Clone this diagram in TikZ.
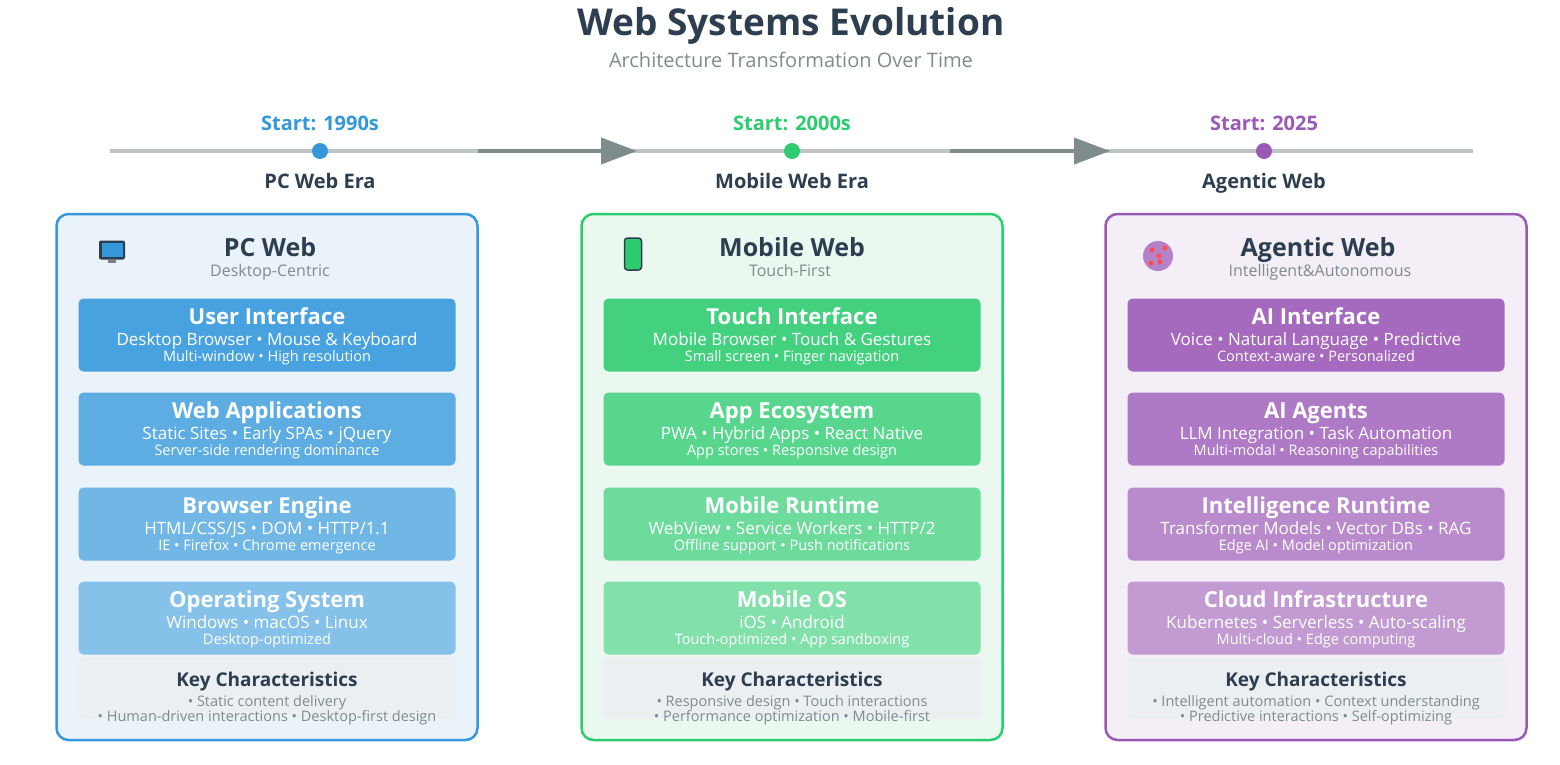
\documentclass[tikz,border=0pt]{standalone}
\usepackage{fontspec}
\setmainfont{Open Sans}
\usetikzlibrary{arrows.meta}
\definecolor{ink}{HTML}{2C3E50}
\definecolor{sub}{HTML}{7F8C8D}
\definecolor{cb}{HTML}{3498DB}
\definecolor{cg}{HTML}{2ECC71}
\definecolor{cp}{HTML}{9B59B6}
\definecolor{fb}{HTML}{EAF3FA}
\definecolor{fg}{HTML}{EAF8EF}
\definecolor{fp}{HTML}{F4EEF7}
\definecolor{tl}{HTML}{BDC3C7}
\definecolor{ar}{HTML}{7F8C8D}
\definecolor{kc}{HTML}{ECEFF1}
\newcommand\fs[1]{\fontsize{#1}{#1}\selectfont}
\tikzset{
 panel/.style={draw=#1, line width=2.5pt, rounded corners=12pt},
 blk/.style={rounded corners=5pt, minimum width=377pt, minimum height=73pt, inner sep=0pt},
 lbl/.style={inner sep=0pt, anchor=base, font=\fs{#1}, yshift=-0.36*#1 pt},
 bf/.style={font=\fs{#1}\bfseries},
}
\newcommand\blk[7]{%
 \node[blk, fill=#3!#4!white] (#1) at (#2) {};
 \node[lbl=22, bf=22, text=white] at ([yshift=-18pt]#1.north) {#5};
 \node[lbl=17, text=white] at ([yshift=-41pt]#1.north) {#6};
 \node[lbl=14.5, text=white] at ([yshift=-58pt]#1.north) {#7};
}
\newcommand\col[6]{%
 \node[panel=#2, fill=#3, minimum width=421pt, minimum height=526pt] (p#4) at (#1,477) {};
 \node[lbl=25, bf=25, text=ink] (h#4) at (#5,247) {#6};
}
\begin{document}
\begin{tikzpicture}[x=1pt,y=-1pt]
\useasboundingbox[fill=white] (0,0) rectangle (1560,764);
\node[lbl=37, bf=37, text=ink] (title) at (791,22) {Web Systems Evolution};
\node[lbl=20, text=sub] (subtitle) at (791,60) {Architecture Transformation Over Time};
% timeline
\coordinate (tl0) at (110,151); \coordinate (tl1) at (1473,151);
\draw[tl, line width=4pt] (tl0) -- (tl1);
\coordinate (a1s) at (478,151); \coordinate (a1e) at (637,151);
\coordinate (a2s) at (950,151); \coordinate (a2e) at (1110,151);
\draw[ar, line width=4pt, -{Triangle[length=36pt,width=26pt]}] (a1s) -- (a1e);
\draw[ar, line width=4pt, -{Triangle[length=36pt,width=26pt]}] (a2s) -- (a2e);
\foreach \x/\c/\s/\e/\n in {320/cb/1990s/PC Web Era/d1, 792/cg/2000s/Mobile Web Era/d2, 1264/cp/2025/Agentic Web/d3}{
 \node[circle, fill=\c, minimum size=16pt, inner sep=0pt] (\n) at (\x,151) {};
 \node[lbl=20, bf=20, text=\c] at (\x,123) {Start: \s};
 \node[lbl=20, bf=20, text=ink] at (\x,181) {\e};
}
% columns
\col{267}{cb}{fb}{1}{270}{PC Web}
\col{792}{cg}{fg}{2}{792}{Mobile Web}
\col{1316}{cp}{fp}{3}{1318}{Agentic Web}
\node[lbl=16, text=sub] (s1) at (270,271) {Desktop-Centric};
\node[lbl=16, text=sub] (s2) at (790,271) {Touch-First};
\node[lbl=16, text=sub] (s3) at (1320,271) {Intelligent\&Autonomous};
% icons
\node[fill=ink, rounded corners=2pt, minimum width=26pt, minimum height=19pt, inner sep=0pt] (ic1) at (112,250) {};
\node[fill=cb, minimum width=21pt, minimum height=14pt, inner sep=0pt] at (ic1) {};
\node[fill=gray, minimum width=8pt, minimum height=3pt, inner sep=0pt] at (112,261) {};
\node[draw=ink, line width=1.5pt, fill=cg, rounded corners=3pt, minimum width=17pt, minimum height=32pt, inner sep=0pt] (ic2) at (633,254) {};
\node[circle, fill=cp!75, minimum size=30pt, inner sep=0pt] (ic3) at (1158,256) {};
\foreach \p in {(1152,250),(1165,248),(1160,262),(1151,263),(1159,256)}{\fill[red!70] \p circle (2.5pt);}
% blocks
\blk{b11}{267,335}{cb}{90}{User Interface}{Desktop Browser • Mouse \& Keyboard}{Multi-window • High resolution}
\blk{b12}{267,429}{cb}{80}{Web Applications}{Static Sites • Early SPAs • jQuery}{Server-side rendering dominance}
\blk{b13}{267,524}{cb}{70}{Browser Engine}{HTML/CSS/JS • DOM • HTTP/1.1}{IE • Firefox • Chrome emergence}
\blk{b14}{267,618}{cb}{60}{Operating System}{Windows • macOS • Linux}{Desktop-optimized}
\blk{b21}{792,335}{cg}{90}{Touch Interface}{Mobile Browser • Touch \& Gestures}{Small screen • Finger navigation}
\blk{b22}{792,429}{cg}{80}{App Ecosystem}{PWA • Hybrid Apps • React Native}{App stores • Responsive design}
\blk{b23}{792,524}{cg}{70}{Mobile Runtime}{WebView • Service Workers • HTTP/2}{Offline support • Push notifications}
\blk{b24}{792,618}{cg}{60}{Mobile OS}{iOS • Android}{Touch-optimized • App sandboxing}
\blk{b31}{1316,335}{cp}{90}{AI Interface}{Voice • Natural Language • Predictive}{Context-aware • Personalized}
\blk{b32}{1316,429}{cp}{80}{AI Agents}{LLM Integration • Task Automation}{Multi-modal • Reasoning capabilities}
\blk{b33}{1316,524}{cp}{70}{Intelligence Runtime}{Transformer Models • Vector DBs • RAG}{Edge AI • Model optimization}
\blk{b34}{1316,618}{cp}{60}{Cloud Infrastructure}{Kubernetes • Serverless • Auto-scaling}{Multi-cloud • Edge computing}
% key characteristics
\foreach \x/\n/\a/\b in {267/k1/• Static content delivery/• Human-driven interactions • Desktop-first design,
 792/k2/• Responsive design • Touch interactions/• Performance optimization • Mobile-first,
 1316/k3/• Intelligent automation • Context understanding/• Predictive interactions • Self-optimizing}{
 \node[fill=kc, rounded corners=5pt, minimum width=377pt, minimum height=61pt, inner sep=0pt] (\n) at (\x,688) {};
 \node[lbl=19, bf=19, text=ink] at (\x,680) {Key Characteristics};
 \node[lbl=14.5, text=sub] at (\x,701) {\a};
 \node[lbl=14.5, text=sub] at (\x,716) {\b};
}
\end{tikzpicture}
\end{document}
